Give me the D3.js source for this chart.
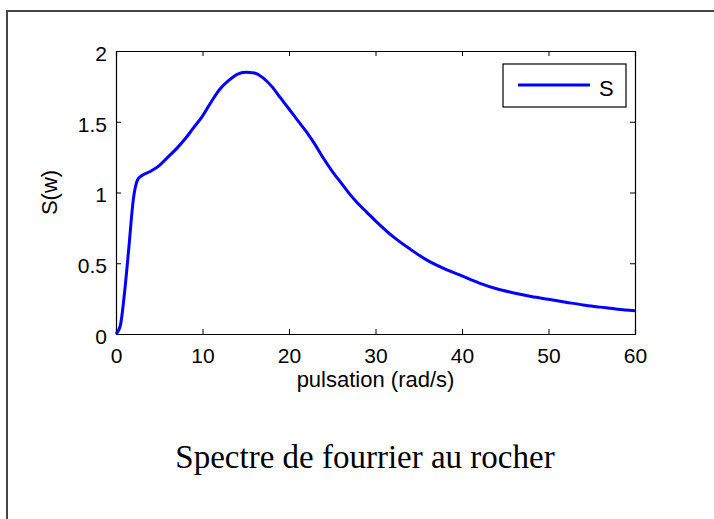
<!DOCTYPE html>
<html>
<head>
<meta charset="utf-8">
<script src="https://d3js.org/d3.v7.min.js"></script>
<style>
  body { margin: 0; background: #fff; }
  text { font-family: "Liberation Sans", Arial, sans-serif; }
  .caption { font-family: "Liberation Serif", "Times New Roman", serif; }
</style>
</head>
<body>
<script>
  // values
  const pulsation = [0, 0.5, 1, 1.5, 2, 2.5, 3, 4, 5, 6, 7, 8, 9, 10, 11, 12, 13, 14, 15, 16, 17, 18, 19, 20,
    21, 22, 23, 24, 25, 26, 27, 28, 29, 30, 32, 34, 36, 38, 40, 42, 44, 46, 48, 50, 52, 54, 56, 58, 60];
  const spectre = [0, 0.06, 0.3, 0.62, 0.95, 1.09, 1.12, 1.15, 1.19, 1.25, 1.31, 1.38, 1.46, 1.54, 1.64, 1.73, 1.79, 1.835, 1.85, 1.845, 1.81, 1.75, 1.67, 1.59,
    1.51, 1.43, 1.34, 1.24, 1.15, 1.07, 0.99, 0.92, 0.86, 0.8, 0.69, 0.6, 0.52, 0.46, 0.41, 0.36, 0.32, 0.29, 0.265, 0.245, 0.225, 0.205, 0.19, 0.175, 0.165];
  const xTicks = [0, 10, 20, 30, 40, 50, 60];
  const yTicks = [0, 0.5, 1, 1.5, 2];

  const W = 714, H = 519;
  var margin = {top: 51, right: 79, bottom: 185, left: 116}
    , width = W - margin.left - margin.right
    , height = H - margin.top - margin.bottom;

  const svg = d3.select("body").append("svg")
    .attr("width", W)
    .attr("height", H);

  // outer frame (its right and bottom edges fall off the picture)
  svg.append("rect")
    .attr("x", 7).attr("y", 11)
    .attr("width", 760).attr("height", 560)
    .attr("fill", "none")
    .attr("stroke", "#444")
    .attr("stroke-width", 2);

  const g = svg.append("g")
    .attr("transform", "translate(" + margin.left + "," + margin.top + ")");

  const x = d3.scaleLinear().domain([0, 60]).range([0, width]);
  const y = d3.scaleLinear().domain([0, 2]).range([height, 0]);

  const tk = 5;
  // bottom / left axes with inward ticks
  g.append("g")
    .attr("transform", "translate(0," + height + ")")
    .call(d3.axisBottom(x).tickValues(xTicks).tickSize(-tk).tickPadding(14))
    .call(a => a.selectAll("text").attr("font-size", "21px").attr("fill", "#000"));
  g.append("g")
    .call(d3.axisLeft(y).tickValues(yTicks).tickSize(-tk).tickPadding(9).tickFormat(d3.format("")))
    .call(a => a.selectAll("text").attr("font-size", "21px").attr("fill", "#000").attr("dy", "0.45em"));
  // top / right axes, ticks only
  g.append("g")
    .call(d3.axisTop(x).tickValues(xTicks).tickSize(-tk).tickFormat(""));
  g.append("g")
    .attr("transform", "translate(" + width + ",0)")
    .call(d3.axisRight(y).tickValues(yTicks).tickSize(-tk).tickFormat(""));
  g.selectAll(".domain").attr("stroke", "#000").attr("stroke-width", 1.2);
  g.selectAll(".tick line").attr("stroke", "#000");

  const line = d3.line()
    .x((d, i) => x(pulsation[i]))
    .y(d => y(d))
    .curve(d3.curveMonotoneX);

  g.append("path")
    .datum(spectre)
    .attr("d", line)
    .attr("fill", "none")
    .attr("stroke", "#0000ff")
    .attr("stroke-width", 3);

  // legend
  const leg = g.append("g").attr("transform", "translate(" + (width - 132) + ",13)");
  leg.append("rect")
    .attr("width", 123).attr("height", 43)
    .attr("fill", "#fff").attr("stroke", "#000").attr("stroke-width", 1.2);
  leg.append("line")
    .attr("x1", 15).attr("x2", 87).attr("y1", 21).attr("y2", 21)
    .attr("stroke", "#0000ff").attr("stroke-width", 3);
  leg.append("text")
    .attr("x", 96).attr("y", 32)
    .attr("font-size", "22px")
    .text("S");

  // axis labels
  svg.append("text")
    .attr("x", margin.left + width / 2).attr("y", 387)
    .attr("text-anchor", "middle")
    .attr("font-size", "22px")
    .text("pulsation (rad/s)");
  svg.append("text")
    .attr("transform", "translate(57," + (margin.top + height / 2) + ") rotate(-90)")
    .attr("text-anchor", "middle")
    .attr("font-size", "22px")
    .text("S(w)");

  svg.append("text")
    .attr("class", "caption")
    .attr("x", 365).attr("y", 468)
    .attr("text-anchor", "middle")
    .attr("font-size", "33px")
    .text("Spectre de fourrier au rocher");
</script>
</body>
</html>
